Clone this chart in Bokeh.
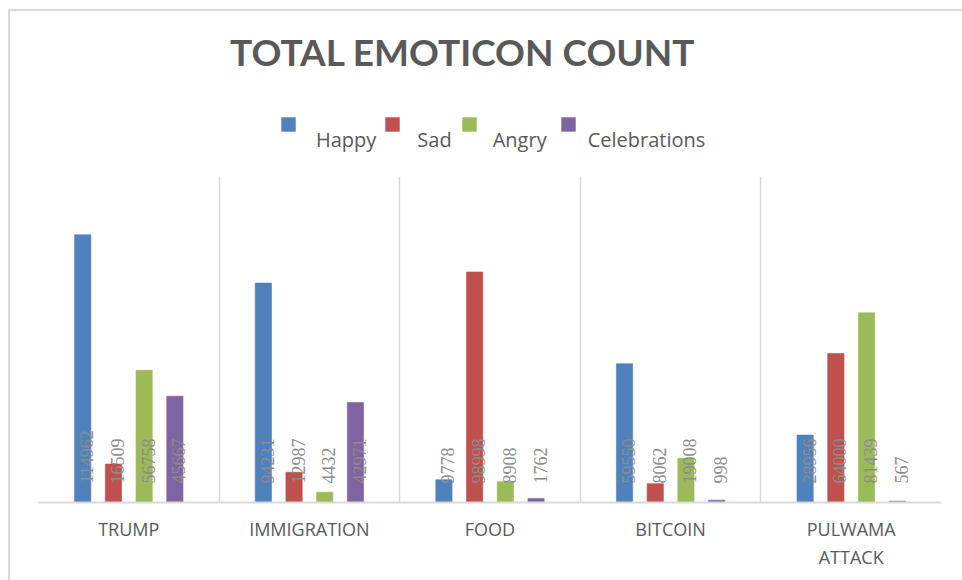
from bokeh.plotting import figure
from bokeh.layouts import column
from bokeh.models import (ColumnDataSource, Range1d, FixedTicker, Legend, LegendItem, Label)
from bokeh.embed import file_html
from bokeh.resources import INLINE

categories = ["TRUMP", "IMMIGRATION", "FOOD", "BITCOIN", "PULWAMA ATTACK"]
tick_labels = ["TRUMP", "IMMIGRATION", "FOOD", "BITCOIN", "PULWAMA\nATTACK"]
series_names = ["Happy", "Sad", "Angry", "Celebrations"]
happy = [114962, 94231, 9778, 59550, 28956]
sad = [16509, 12987, 98998, 8062, 64000]
angry = [56758, 4432, 8908, 19008, 81439]
celebrations = [45667, 42971, 1762, 998, 567]
title_text = "TOTAL EMOTICON COUNT"

series_values = [happy, sad, angry, celebrations]
colors = ["#4f81bd", "#c0504d", "#9bbb59", "#8064a2"]
dodges = [-0.255, -0.085, 0.085, 0.255]

W = 952
HEAD_H = 165
MAIN_H = 404

# ---------- header: title + legend ----------
head = figure(width=W, height=HEAD_H, output_backend="svg", toolbar_location=None,
              x_range=Range1d(0, W), y_range=Range1d(0, HEAD_H), title=None,
              min_border=0, min_border_left=0, min_border_right=0,
              min_border_top=0, min_border_bottom=0)
head.axis.visible = False
head.grid.visible = False
head.outline_line_color = None
head.border_fill_color = "white"

head.add_layout(Label(text=title_text, x=202, y=125,
                      text_align="left", text_baseline="alphabetic",
                      text_font="Lato", text_font_style="bold", text_font_size="37px",
                      text_color="#595959"))

# hidden copies of the series, used only to supply legend swatches
swatch_renderers = []
for vals, col in zip(series_values, colors):
    r = head.vbar(x=list(range(len(vals))), top=vals, width=0.5,
                  fill_color=col, line_color=None, visible=False)
    swatch_renderers.append(r)

# legend text row (no swatch area)
text_legend = Legend(
    items=[LegendItem(label=n, renderers=[r]) for n, r in zip(series_names, swatch_renderers)],
    orientation="horizontal", location=(278, 23),
    glyph_width=0, glyph_height=14, label_height=14,
    label_standoff=0, spacing=41, padding=0, margin=0,
    label_text_font="Open Sans", label_text_font_size="20px",
    label_text_color="#595959", inactive_fill_alpha=0,
    border_line_color=None, background_fill_alpha=0)
head.add_layout(text_legend, "center")

# swatches sit a little higher than their labels, as in the original
swatch_x = [241, 345, 422, 521]
for r, sx in zip(swatch_renderers, swatch_x):
    sw = Legend(items=[LegendItem(label="", renderers=[r])],
                orientation="horizontal", location=(sx, 43),
                glyph_width=18, glyph_height=18, label_height=18, label_width=0,
                label_standoff=0, spacing=0, padding=0, margin=0,
                label_text_font_size="1px", inactive_fill_alpha=0,
                border_line_color=None, background_fill_alpha=0)
    head.add_layout(sw, "center")

# ---------- main chart ----------
p = figure(width=W, height=MAIN_H, output_backend="svg", toolbar_location=None,
           x_range=Range1d(0, len(categories)), y_range=Range1d(0, 140000),
           title=None, min_border_left=28, min_border_right=21,
           min_border_top=0, min_border_bottom=78)
p.outline_line_color = None
p.background_fill_color = "white"
p.border_fill_color = "white"

for name, vals, col, dx in zip(series_names, series_values, colors, dodges):
    xs = [i + 0.5 + dx for i in range(len(categories))]
    src = ColumnDataSource(dict(x=xs, top=vals, lbl=[str(v) for v in vals]))
    p.vbar(x="x", top="top", width=0.09, bottom=0, source=src,
           fill_color=col, line_color=col, line_alpha=0.6)
    p.text(x="x", y=0, text="lbl", source=src, angle=1.5708,
           x_offset=4, y_offset=-19, text_align="left", text_baseline="middle",
           text_font="Open Sans", text_font_size="18px", text_color="#8c8c8c")

p.yaxis.visible = False
p.ygrid.visible = False
p.xaxis.ticker = FixedTicker(ticks=[i + 0.5 for i in range(len(categories))])
p.xaxis.major_label_overrides = {i + 0.5: t for i, t in enumerate(tick_labels)}
p.xaxis.major_tick_line_color = None
p.xaxis.minor_tick_line_color = None
p.xaxis.axis_line_color = "#d9d9d9"
p.xaxis.axis_line_width = 2
p.xaxis.major_label_standoff = 8
p.xaxis.major_label_text_font = "Open Sans"
p.xaxis.major_label_text_font_size = "18px"
p.xaxis.major_label_text_color = "#595959"
p.xaxis.major_label_text_line_height = 1.2
p.xgrid.ticker = FixedTicker(ticks=list(range(len(categories) + 1)))
p.xgrid.grid_line_color = "#d9d9d9"
p.xgrid.grid_line_width = 1.5

layout = column(head, p, spacing=0)
layout.styles = {"border-left": "2px solid #d9d9d9", "border-top": "2px solid #d9d9d9",
                 "margin-left": "8px", "margin-top": "9px"}

open("out.html", "w").write(file_html(layout, INLINE))
